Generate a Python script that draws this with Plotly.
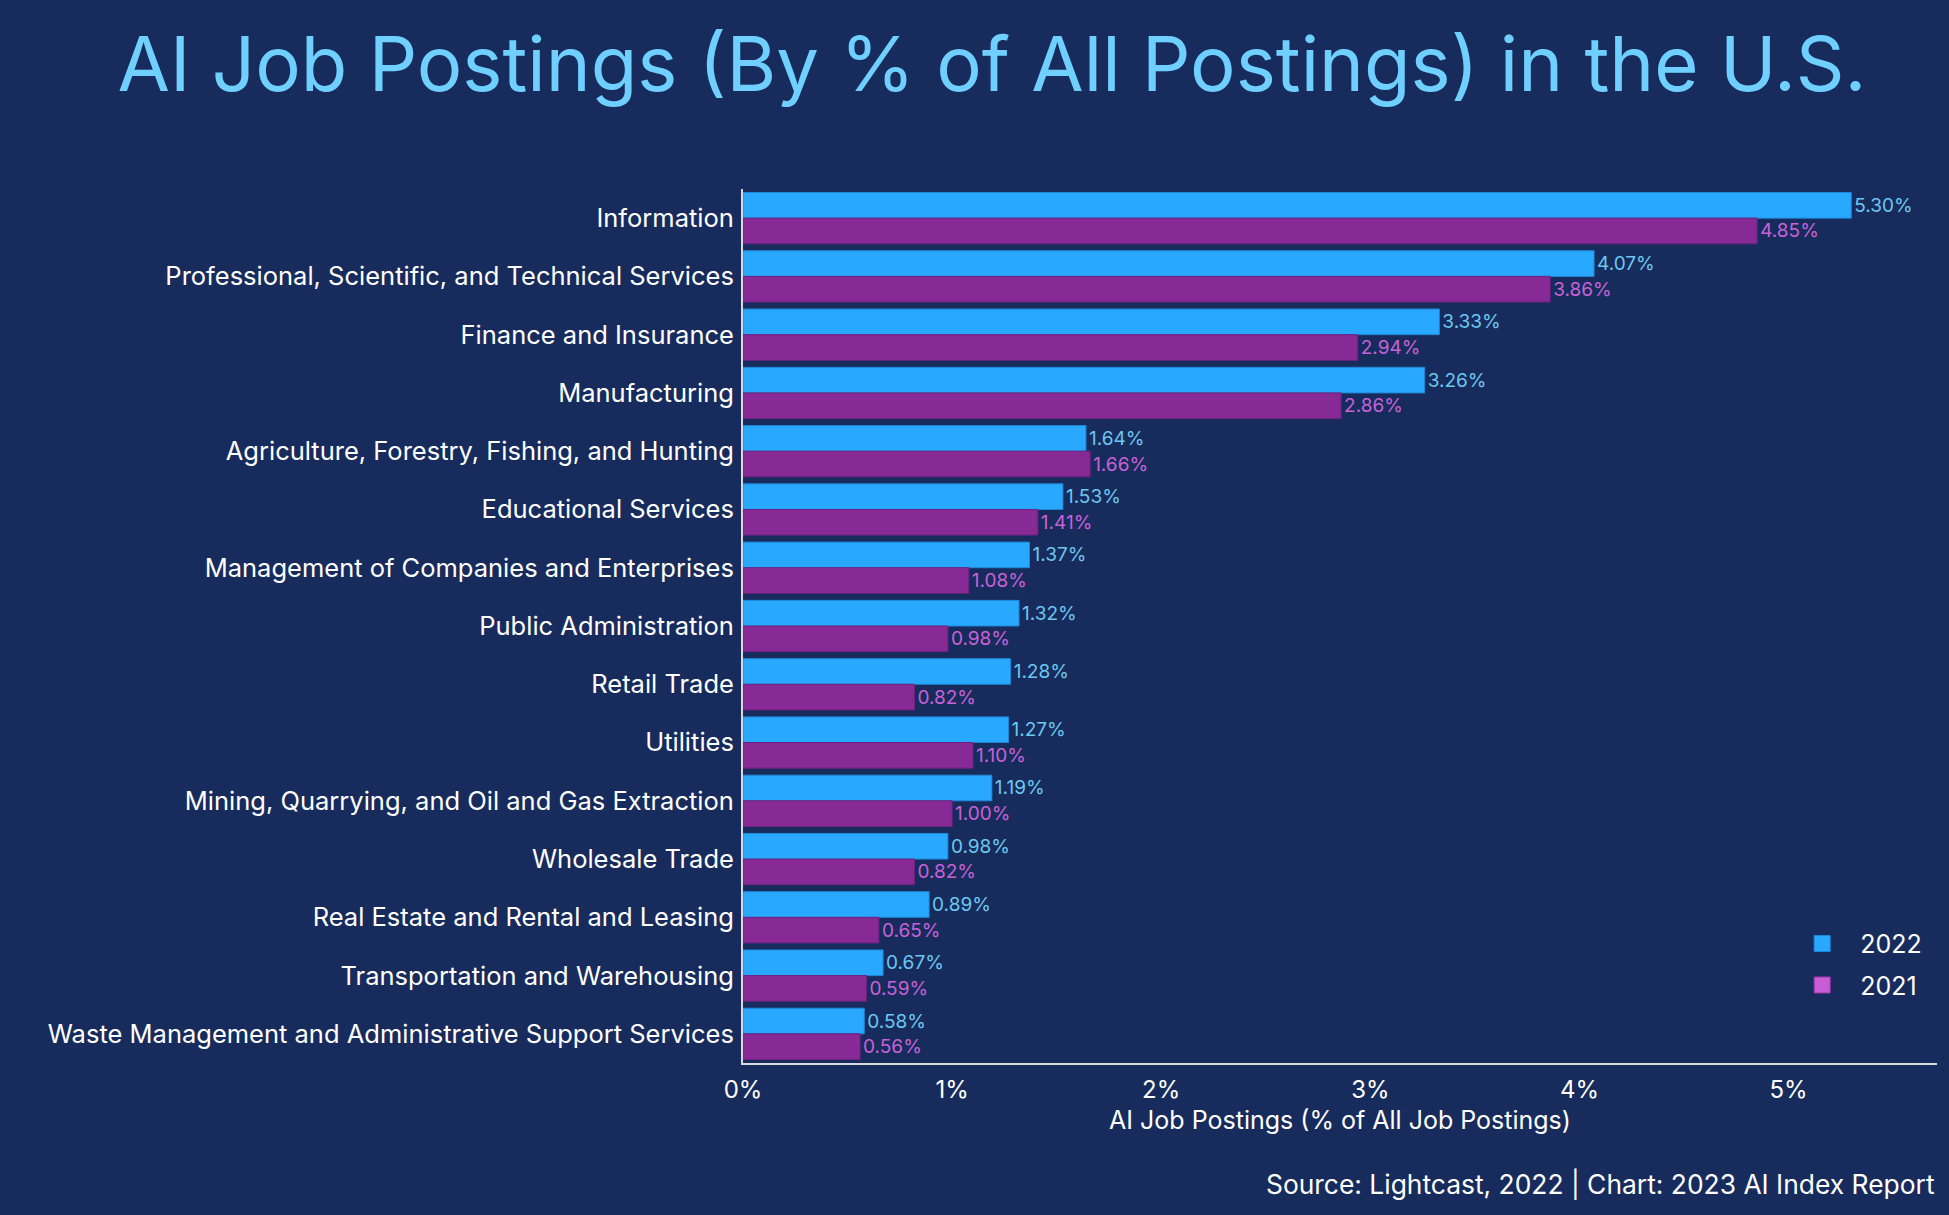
import plotly.graph_objects as go

categories = [
    "Information",
    "Professional, Scientific, and Technical Services",
    "Finance and Insurance",
    "Manufacturing",
    "Agriculture, Forestry, Fishing, and Hunting",
    "Educational Services",
    "Management of Companies and Enterprises",
    "Public Administration",
    "Retail Trade",
    "Utilities",
    "Mining, Quarrying, and Oil and Gas Extraction",
    "Wholesale Trade",
    "Real Estate and Rental and Leasing",
    "Transportation and Warehousing",
    "Waste Management and Administrative Support Services",
]
values_2022 = [5.30, 4.07, 3.33, 3.26, 1.64, 1.53, 1.37, 1.32, 1.28, 1.27, 1.19, 0.98, 0.89, 0.67, 0.58]
values_2021 = [4.85, 3.86, 2.94, 2.86, 1.66, 1.41, 1.08, 0.98, 0.82, 1.10, 1.00, 0.82, 0.65, 0.59, 0.56]
x_ticks = [0, 1, 2, 3, 4, 5]
x_tick_labels = ["0%", "1%", "2%", "3%", "4%", "5%"]

BG = "#172c5c"
BLUE = "#29a8ff"
PURPLE = "#882a96"
PINK_LEGEND = "#c85bd6"
BLUE_TEXT = "#6cc8f0"
PINK_TEXT = "#c862d6"
FONT = "Inter, 'Noto Sans', sans-serif"

fig = go.Figure()
fig.add_trace(go.Bar(
    y=categories, x=values_2022, orientation="h", name="2022",
    marker=dict(color=BLUE, line=dict(color="#1f86d6", width=1)),
    text=[f"{v:.2f}%" for v in values_2022], textposition="outside",
    textfont=dict(color=BLUE_TEXT, size=19, family=FONT),
    cliponaxis=False, constraintext="none", showlegend=False,
))
fig.add_trace(go.Bar(
    y=categories, x=values_2021, orientation="h", name="2021",
    marker=dict(color=PURPLE, line=dict(color="#6e2280", width=1)),
    text=[f"{v:.2f}%" for v in values_2021], textposition="outside",
    textfont=dict(color=PINK_TEXT, size=19, family=FONT),
    cliponaxis=False, constraintext="none", showlegend=False,
))
# legend entries (on a hidden axis pair so they take no bar slots)
fig.add_trace(go.Scatter(x=[None], y=[None], mode="markers", name="2022",
                         xaxis="x2", yaxis="y2", legendgroup="a",
                         marker=dict(symbol="square", size=20, color=BLUE,
                                     line=dict(color="#1f86d6", width=1))))
fig.add_trace(go.Scatter(x=[None], y=[None], mode="markers", name="2021",
                         xaxis="x2", yaxis="y2", legendgroup="b",
                         marker=dict(symbol="square", size=20, color=PINK_LEGEND,
                                     line=dict(color="#9a3aa8", width=1))))

fig.update_layout(
    width=1949, height=1215,
    paper_bgcolor=BG, plot_bgcolor=BG,
    barmode="group", bargap=0.12, bargroupgap=0,
    margin=dict(l=743, r=12, t=189, b=152),
    font=dict(family=FONT, color="white", size=22),
    title=dict(text="AI Job Postings (By % of All Postings) in the U.S.",
               x=0.509, xanchor="center", y=0.947, yanchor="middle",
               font=dict(size=76, color="#6fd0ff", family=FONT)),
    legend=dict(x=0.872, xanchor="left", y=0.113, yanchor="middle",
                bgcolor="rgba(0,0,0,0)", font=dict(size=25, color="white"),
                itemwidth=66, tracegroupgap=6, itemsizing="trace"),
    showlegend=True,
    xaxis=dict(
        range=[0, 5.71], tickvals=x_ticks, ticktext=x_tick_labels,
        showgrid=False, zeroline=False, showline=True, linecolor="#d8d8e0", linewidth=2,
        ticks="", ticklabelstandoff=4, tickfont=dict(size=24, color="white"),
        title=dict(text="AI Job Postings (% of All Job Postings)",
                   font=dict(size=25, color="white"), standoff=9),
    ),
    yaxis=dict(
        categoryorder="array", categoryarray=categories, autorange="reversed",
        showgrid=False, zeroline=False, showline=True, linecolor="#d8d8e0", linewidth=2,
        ticks="", ticklabelstandoff=2, tickfont=dict(size=25.5, color="white"),
    ),
    xaxis2=dict(overlaying="x", visible=False, range=[0, 1]),
    yaxis2=dict(overlaying="y", visible=False, range=[0, 1]),
)
fig.add_annotation(
    text="Source: Lightcast, 2022 | Chart: 2023 AI Index Report",
    xref="paper", yref="paper", x=1.0, y=-0.138, xanchor="right", yanchor="middle",
    showarrow=False, font=dict(size=26.4, color="white"),
)
fig.write_html(
    "out.html",
    config={"displayModeBar": False},
    post_script="document.body.style.margin='0';document.body.style.overflow='hidden';"
                "document.body.style.background='#172c5c';",
)
